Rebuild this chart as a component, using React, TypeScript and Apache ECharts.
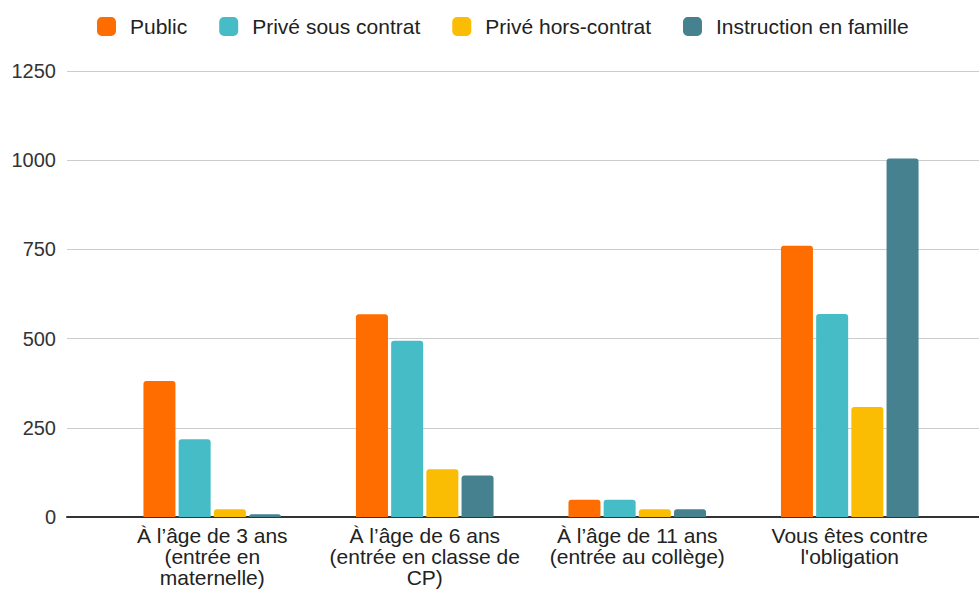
import React, { useEffect, useRef } from "react";
import * as echarts from "echarts";

const categories = [
  "À l’âge de 3 ans\n(entrée en\nmaternelle)",
  "À l’âge de 6 ans\n(entrée en classe de\nCP)",
  "À l’âge de 11 ans\n(entrée au collège)",
  "Vous êtes contre\nl'obligation",
];
const seriesNames = ["Public", "Privé sous contrat", "Privé hors-contrat", "Instruction en famille"];
const publicValues = [381, 568, 48, 760];
const priveSousContrat = [218, 494, 48, 569];
const priveHorsContrat = [22, 134, 22, 308];
const instructionFamille = [8, 116, 22, 1005];
const colors = ["#ff6d01", "#46bdc6", "#fbbc04", "#45818e"];
const yMin = 0;
const yMax = 1250;
const yInterval = 250;

export default function App() {
  const ref = useRef<HTMLDivElement>(null);
  useEffect(() => {
    if (!ref.current) return;
    const chart = echarts.init(ref.current, undefined, { renderer: "svg" });
    const font = "'Liberation Sans', Arial, sans-serif";
    const values = [publicValues, priveSousContrat, priveHorsContrat, instructionFamille];
    chart.setOption({
      animation: false,
      textStyle: { fontFamily: font },
      legend: {
        left: 92,
        top: 11,
        itemWidth: 19,
        itemHeight: 19,
        itemGap: 32,
        icon: "roundRect",
        textStyle: { fontSize: 21, color: "#222", fontFamily: font, padding: [0, 0, 0, 9] },
        data: seriesNames,
      },
      grid: [
        { left: 67, right: 0, top: 71, bottom: 73, containLabel: false },
        { left: 106, right: 23, top: 71, bottom: 73, containLabel: false },
      ],
      xAxis: [
        {
          type: "value",
          gridIndex: 0,
          min: 0,
          max: 1,
          axisLine: { show: true, onZero: false, lineStyle: { color: "#333", width: 2 } },
          axisTick: { show: false },
          axisLabel: { show: false },
          splitLine: { show: false },
        },
        {
          type: "category",
          gridIndex: 1,
          data: categories,
          axisLine: { show: false },
          axisTick: { show: false },
          axisLabel: {
            fontSize: 21,
            color: "#222",
            fontFamily: font,
            lineHeight: 21,
            margin: 8,
            interval: 0,
          },
        },
      ],
      yAxis: [
        {
          type: "value",
          gridIndex: 0,
          min: yMin,
          max: yMax,
          interval: yInterval,
          axisLine: { show: false },
          axisTick: { show: false },
          axisLabel: {
            fontSize: 20,
            color: "#333",
            fontFamily: font,
            margin: 11,
            formatter: (v: number) => String(v),
          },
          splitLine: { lineStyle: { color: "#ccc", width: 1 } },
        },
        {
          type: "value",
          gridIndex: 1,
          min: yMin,
          max: yMax,
          interval: yInterval,
          show: false,
          splitLine: { show: false },
        },
      ],
      series: seriesNames.map((name, i) => ({
        name,
        type: "bar",
        xAxisIndex: 1,
        yAxisIndex: 1,
        data: values[i],
        barWidth: 32,
        barGap: "10%",
        itemStyle: { color: colors[i], borderRadius: [3, 3, 0, 0] },
      })),
    });
    return () => chart.dispose();
  }, []);
  return <div ref={ref} style={{ width: 979, height: 590, position: "absolute", left: 0, top: 0 }} />;
}
